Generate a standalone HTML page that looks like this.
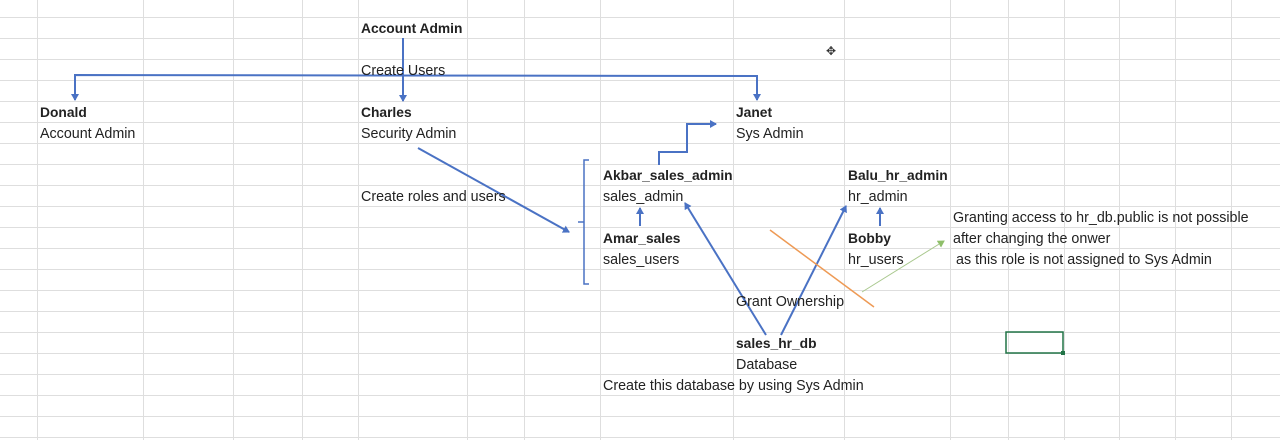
<!DOCTYPE html>
<html><head><meta charset="utf-8"><style>
body{margin:0;width:1280px;height:440px;overflow:hidden;background:#fff;font-family:"Liberation Sans",sans-serif;}
.t{position:absolute;font-size:14.3px;color:#222;white-space:nowrap;line-height:16px;margin-top:1px;}
.b{font-weight:bold;font-size:13.8px;}
svg{position:absolute;left:0;top:0;}
</style></head><body>
<svg width="1280" height="440">
<g stroke="#dedede" stroke-width="1">
<line x1="37.5" y1="0" x2="37.5" y2="440"/><line x1="143.5" y1="0" x2="143.5" y2="440"/>
<line x1="233.5" y1="0" x2="233.5" y2="440"/><line x1="302.5" y1="0" x2="302.5" y2="440"/>
<line x1="358.5" y1="0" x2="358.5" y2="440"/><line x1="467.5" y1="0" x2="467.5" y2="440"/>
<line x1="524.5" y1="0" x2="524.5" y2="440"/><line x1="600.5" y1="0" x2="600.5" y2="440"/>
<line x1="733.5" y1="0" x2="733.5" y2="440"/><line x1="844.5" y1="0" x2="844.5" y2="440"/>
<line x1="950.5" y1="0" x2="950.5" y2="440"/><line x1="1008.5" y1="0" x2="1008.5" y2="440"/>
<line x1="1064.5" y1="0" x2="1064.5" y2="440"/><line x1="1119.5" y1="0" x2="1119.5" y2="440"/>
<line x1="1175.5" y1="0" x2="1175.5" y2="440"/><line x1="1231.5" y1="0" x2="1231.5" y2="440"/>
<line x1="0" y1="17.5" x2="1280" y2="17.5"/><line x1="0" y1="38.5" x2="1280" y2="38.5"/>
<line x1="0" y1="59.5" x2="1280" y2="59.5"/><line x1="0" y1="80.5" x2="1280" y2="80.5"/>
<line x1="0" y1="101.5" x2="1280" y2="101.5"/><line x1="0" y1="122.5" x2="1280" y2="122.5"/>
<line x1="0" y1="143.5" x2="1280" y2="143.5"/><line x1="0" y1="164.5" x2="1280" y2="164.5"/>
<line x1="0" y1="185.5" x2="1280" y2="185.5"/><line x1="0" y1="206.5" x2="1280" y2="206.5"/>
<line x1="0" y1="227.5" x2="1280" y2="227.5"/><line x1="0" y1="248.5" x2="1280" y2="248.5"/>
<line x1="0" y1="269.5" x2="1280" y2="269.5"/><line x1="0" y1="290.5" x2="1280" y2="290.5"/>
<line x1="0" y1="311.5" x2="1280" y2="311.5"/><line x1="0" y1="332.5" x2="1280" y2="332.5"/>
<line x1="0" y1="353.5" x2="1280" y2="353.5"/><line x1="0" y1="374.5" x2="1280" y2="374.5"/>
<line x1="0" y1="395.5" x2="1280" y2="395.5"/><line x1="0" y1="416.5" x2="1280" y2="416.5"/>
<line x1="0" y1="437.5" x2="1280" y2="437.5"/>
</g>
<defs>
<marker id="a" markerWidth="8" markerHeight="8" refX="6" refY="4" orient="auto" markerUnits="userSpaceOnUse"><path d="M0,0 L7,4 L0,8 z" fill="#4a72c4"/></marker>
<marker id="g" markerWidth="8" markerHeight="8" refX="6" refY="4" orient="auto" markerUnits="userSpaceOnUse"><path d="M0,0 L7,4 L0,8 z" fill="#8fbf6a"/></marker>
</defs>
<g stroke="#4a72c4" stroke-width="2" fill="none">
<line x1="403" y1="38" x2="403" y2="101" marker-end="url(#a)"/>
<polyline points="75,100 75,75 757,76 757,100" marker-end="url(#a)"/>
<line x1="75" y1="82" x2="75" y2="100" marker-end="url(#a)"/>
<line x1="418" y1="148" x2="569" y2="232" marker-end="url(#a)"/>
<polyline points="659,165 659,152 687,152 687,124 716,124" marker-end="url(#a)"/>
<line x1="640" y1="226" x2="640" y2="208" marker-end="url(#a)"/>
<line x1="880" y1="226" x2="880" y2="208" marker-end="url(#a)"/>
<line x1="766" y1="335" x2="685" y2="203" marker-end="url(#a)"/>
<line x1="781" y1="335" x2="846" y2="206" marker-end="url(#a)"/>
</g>
<polyline points="589,160 584,160 584,284 589,284" stroke="#4a72c4" stroke-width="1.5" fill="none"/>
<line x1="584" y1="222" x2="578" y2="222" stroke="#4a72c4" stroke-width="1.5"/>
<line x1="770" y1="230" x2="874" y2="307" stroke="#ee9a55" stroke-width="1.5"/>
<line x1="862" y1="292" x2="944" y2="241" stroke="#a9c88e" stroke-width="1" marker-end="url(#g)"/>
<rect x="1006" y="332" width="57" height="21" fill="none" stroke="#217346" stroke-width="1.5"/>
<rect x="1061" y="351" width="4" height="4" fill="#217346"/>
<text x="826" y="55" font-size="12" fill="#333">✥</text>
</svg>
<div class="t b" style="left:361px;top:20px">Account Admin</div>
<div class="t" style="left:361px;top:62px">Create Users</div>
<div class="t b" style="left:40px;top:104px">Donald</div>
<div class="t" style="left:40px;top:125px">Account Admin</div>
<div class="t b" style="left:361px;top:104px">Charles</div>
<div class="t" style="left:361px;top:125px">Security Admin</div>
<div class="t b" style="left:736px;top:104px">Janet</div>
<div class="t" style="left:736px;top:125px">Sys Admin</div>
<div class="t" style="left:361px;top:188px">Create roles and users</div>
<div class="t b" style="left:603px;top:167px">Akbar_sales_admin</div>
<div class="t" style="left:603px;top:188px">sales_admin</div>
<div class="t b" style="left:603px;top:230px">Amar_sales</div>
<div class="t" style="left:603px;top:251px">sales_users</div>
<div class="t b" style="left:848px;top:167px">Balu_hr_admin</div>
<div class="t" style="left:848px;top:188px">hr_admin</div>
<div class="t b" style="left:848px;top:230px">Bobby</div>
<div class="t" style="left:848px;top:251px">hr_users</div>
<div class="t" style="left:953px;top:209px">Granting access to hr_db.public is not possible</div>
<div class="t" style="left:953px;top:230px">after changing the onwer</div>
<div class="t" style="left:956px;top:251px">as this role is not assigned to Sys Admin</div>
<div class="t" style="left:736px;top:293px">Grant Ownership</div>
<div class="t b" style="left:736px;top:335px">sales_hr_db</div>
<div class="t" style="left:736px;top:356px">Database</div>
<div class="t" style="left:603px;top:377px">Create this database by using Sys Admin</div>
</body></html>
